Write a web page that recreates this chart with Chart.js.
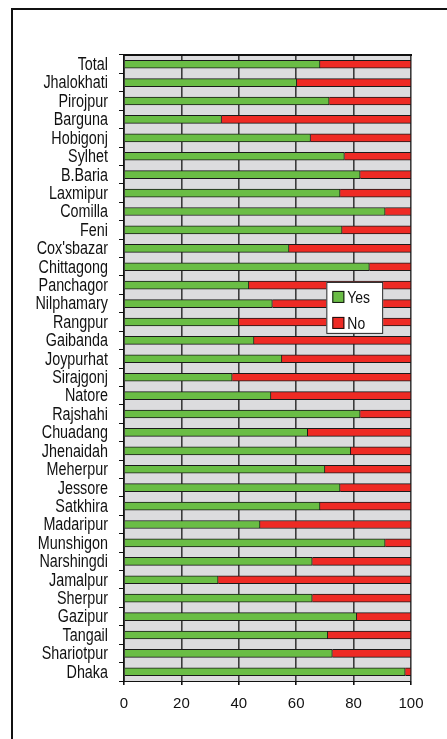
<!DOCTYPE html>
<html>
<head>
<meta charset="utf-8">
<script src="https://cdn.jsdelivr.net/npm/chart.js@4.4.1/dist/chart.umd.min.js"></script>
<style>
  html, body { margin: 0; padding: 0; background: #fff; }
  body { width: 447px; height: 739px; position: relative; overflow: hidden; }
  #frame { position: absolute; left: 11px; top: 8px; width: 500px; height: 800px;
           border-left: 2px solid #111; border-top: 2px solid #111; }
  #wrap { position: absolute; left: 0; top: 0; width: 447px; height: 739px; }
</style>
</head>
<body>
<div id="frame"></div>
<div id="wrap"><canvas id="chart" width="447" height="739"></canvas></div>
<script>
const districts = ["Total","Jhalokhati","Pirojpur","Barguna","Hobigonj","Sylhet","B.Baria","Laxmipur",
  "Comilla","Feni","Cox'sbazar","Chittagong","Panchagor","Nilphamary","Rangpur","Gaibanda",
  "Joypurhat","Sirajgonj","Natore","Rajshahi","Chuadang","Jhenaidah","Meherpur","Jessore",
  "Satkhira","Madaripur","Munshigon","Narshingdi","Jamalpur","Sherpur","Gazipur","Tangail",
  "Shariotpur","Dhaka"];

const yesValues = [68.3, 60.2, 71.5, 34.0, 65.0, 76.8, 82.3, 75.3,
  91.0, 76.0, 57.5, 85.5, 43.5, 51.7, 40.0, 45.3,
  55.0, 37.7, 51.2, 82.3, 64.0, 79.0, 70.0, 75.3,
  68.3, 47.4, 91.0, 65.6, 32.8, 65.6, 81.1, 71.0,
  72.6, 98.0];

const noValues = [31.7, 39.8, 28.5, 66.0, 35.0, 23.2, 17.7, 24.7,
  9.0, 24.0, 42.5, 14.5, 56.5, 48.3, 60.0, 54.7,
  45.0, 62.3, 48.8, 17.7, 36.0, 21.0, 30.0, 24.7,
  31.7, 52.6, 9.0, 34.4, 67.2, 34.4, 18.9, 29.0,
  27.4, 2.0];

const xTicks = [0, 20, 40, 60, 80, 100];

const labelFont = "'Liberation Sans', Arial, sans-serif";
const squeeze = 0.82; // narrow look of the original labels

// text squeezed horizontally, anchored at x
function narrowText(ctx, text, x, y, align) {
  ctx.save();
  ctx.translate(x, y);
  ctx.scale(squeeze, 1);
  ctx.textAlign = align;
  ctx.fillText(text, 0, 0);
  ctx.restore();
}

// grey plot background + top edge line + y labels
const plotBg = {
  id: "plotBg",
  beforeDraw(chart) {
    const a = chart.chartArea, ctx = chart.ctx;
    ctx.save();
    ctx.fillStyle = "#dcdcde";
    ctx.fillRect(a.left, a.top, a.right - a.left, a.bottom - a.top);
    ctx.restore();
  },
  afterDraw(chart) {
    const a = chart.chartArea, ctx = chart.ctx;
    ctx.save();
    ctx.strokeStyle = "#111";
    ctx.lineWidth = 2;
    ctx.beginPath();
    ctx.moveTo(a.left, a.top);
    ctx.lineTo(a.right + 1, a.top);
    ctx.stroke();

    const y = chart.scales.y;
    ctx.fillStyle = "#111";
    ctx.font = "17.5px " + labelFont;
    ctx.textBaseline = "middle";
    y.ticks.forEach((t, i) => {
      narrowText(ctx, y.getLabelForValue(t.value), a.left - 16, y.getPixelForTick(i) + 1, "right");
    });
    ctx.restore();
  }
};

// legend box drawn inside the plot
const boxLegend = {
  id: "boxLegend",
  afterDraw(chart) {
    const a = chart.chartArea, ctx = chart.ctx;
    const x0 = chart.scales.x.getPixelForValue(70.5);
    const x1 = chart.scales.x.getPixelForValue(90.3);
    const y0 = a.top + (a.bottom - a.top) * 0.3625;
    const y1 = a.top + (a.bottom - a.top) * 0.4455;
    ctx.save();
    ctx.fillStyle = "#fff";
    ctx.fillRect(x0, y0, x1 - x0, y1 - y0);
    ctx.strokeStyle = "#222";
    ctx.lineWidth = 1;
    ctx.strokeRect(x0 + 0.5, y0 + 0.5, x1 - x0 - 1, y1 - y0 - 1);
    ctx.font = "17px " + labelFont;
    ctx.textBaseline = "middle";
    chart.data.datasets.forEach((ds, i) => {
      const cy = y0 + 15 + i * 26;
      ctx.fillStyle = ds.backgroundColor;
      ctx.fillRect(x0 + 6, cy - 6, 12, 12);
      ctx.strokeStyle = "#111";
      ctx.strokeRect(x0 + 6.5, cy - 5.5, 11, 11);
      ctx.fillStyle = "#111";
      narrowText(ctx, ds.label, x0 + 21, cy + 1, "left");
    });
    ctx.restore();
  }
};

new Chart(document.getElementById("chart"), {
  type: "bar",
  data: {
    labels: districts,
    datasets: [
      { label: "Yes", data: yesValues, backgroundColor: "#6abd45",
        borderColor: "#1a1a1a", borderWidth: 1, barThickness: 8 },
      { label: "No", data: noValues, backgroundColor: "#ee2a24",
        borderColor: "#1a1a1a", borderWidth: 1, barThickness: 8 }
    ]
  },
  options: {
    indexAxis: "y",
    responsive: false,
    animation: false,
    layout: { padding: { left: 0, right: 36, top: 55, bottom: 0 } },
    plugins: { legend: { display: false }, tooltip: { enabled: false } },
    scales: {
      x: {
        stacked: true,
        min: 0, max: 100,
        afterFit(s) { s.height = 58; },
        afterBuildTicks(s) { s.ticks = xTicks.map(v => ({ value: v })); },
        grid: {
          color: ctx => ctx.tick && ctx.tick.value === 0 ? "#111" : "#3c3c3c",
          lineWidth: 1.6,
          tickLength: 4,
          tickColor: "#111"
        },
        border: { display: true, color: "#111", width: 1 },
        ticks: { color: "#111", padding: 10, font: { family: labelFont, size: 15 } }
      },
      y: {
        stacked: true,
        afterFit(s) { s.width = 124; },
        grid: { drawOnChartArea: false, drawTicks: true, tickLength: 5, color: "#111", lineWidth: 1 },
        border: { display: true, color: "#111", width: 1.5 },
        // labels are painted by plotBg in a narrow face
        ticks: { color: "rgba(0,0,0,0)", padding: 11, autoSkip: false, font: { family: labelFont, size: 17 } }
      }
    }
  },
  plugins: [plotBg, boxLegend]
});
</script>
</body>
</html>
